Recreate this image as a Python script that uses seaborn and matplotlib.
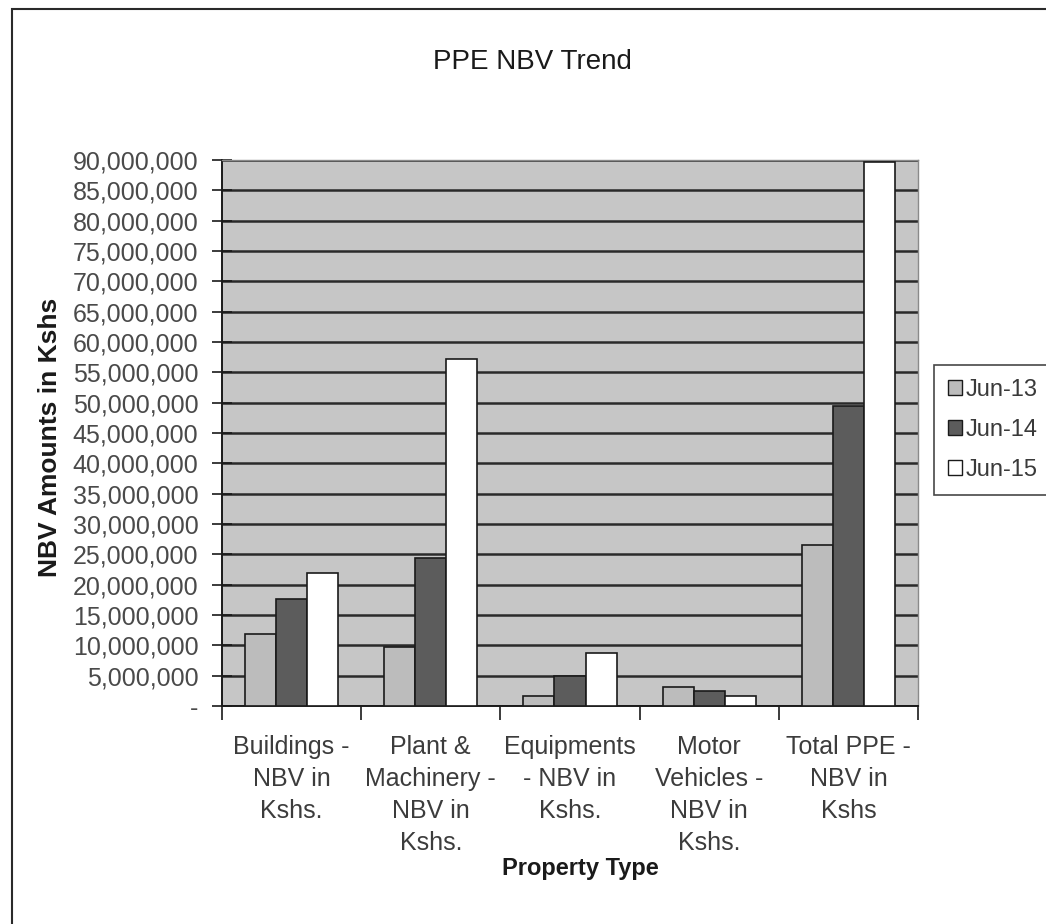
import matplotlib
matplotlib.use("Agg")
import matplotlib.pyplot as plt
import matplotlib.patches as mpatches
from matplotlib.ticker import FuncFormatter, MultipleLocator
import numpy as np
import pandas as pd
import seaborn as sns

# Net book values (Kshs) by property type for each year-end
categories = [
    "Buildings -\nNBV in\nKshs.",
    "Plant &\nMachinery -\nNBV in\nKshs.",
    "Equipments\n- NBV in\nKshs.",
    "Motor\nVehicles -\nNBV in\nKshs.",
    "Total PPE -\nNBV in\nKshs",
]
periods = ["Jun-13", "Jun-14", "Jun-15"]
jun13 = [11_900_000, 9_800_000, 1_600_000, 3_200_000, 26_500_000]
jun14 = [17_600_000, 24_400_000, 5_000_000, 2_500_000, 49_500_000]
jun15 = [22_000_000, 57_200_000, 8_700_000, 1_700_000, 89_600_000]

df = pd.DataFrame({
    "Property Type": categories * 3,
    "Period": [p for p in periods for _ in categories],
    "Value": jun13 + jun14 + jun15,
})

sns.set_theme(style="white")
plt.rcParams["font.family"] = ["Liberation Sans", "DejaVu Sans"]

fig = plt.figure(figsize=(10.46, 9.24), dpi=100)
ax = fig.add_axes([222 / 1046, 1 - 706 / 924, (918 - 222) / 1046, (706 - 160) / 924])
ax.set_facecolor("#c6c6c6")

palette = {"Jun-13": "#bcbcbc", "Jun-14": "#5c5c5c", "Jun-15": "#ffffff"}
sns.barplot(
    data=df, x="Property Type", y="Value", hue="Period",
    palette=palette, width=0.67, edgecolor="#1a1a1a", linewidth=1.2,
    saturation=1, ax=ax, legend=True, zorder=3,
)

ax.set_ylim(0, 90_000_000)
ax.set_xlim(-0.5, len(categories) - 0.5)
ax.yaxis.set_major_locator(MultipleLocator(5_000_000))
ax.yaxis.set_major_formatter(
    FuncFormatter(lambda v, _: "-" if v == 0 else f"{int(v):,}")
)
ax.grid(axis="y", color="#2a2a2a", linewidth=1.8, zorder=0)
ax.set_axisbelow(True)

for side in ["top", "right"]:
    ax.spines[side].set_color("#8a8a8a")
    ax.spines[side].set_linewidth(1.0)
for side in ["left", "bottom"]:
    ax.spines[side].set_color("#1a1a1a")
    ax.spines[side].set_linewidth(1.4)

# category boundary ticks below the x axis
ax.set_xticks(np.arange(-0.5, len(categories), 1.0), minor=True)
ax.tick_params(axis="x", which="minor", length=10, width=1.2, color="#1a1a1a",
               direction="out", bottom=True)
ax.tick_params(axis="x", which="major", length=0, pad=21,
               labelsize=18, labelcolor="#3c3c3c")
ax.tick_params(axis="y", which="major", length=14, width=1.2, color="#1a1a1a",
               direction="inout", left=True, pad=10,
               labelsize=18, labelcolor="#4a4a4a")
for lbl in ax.get_xticklabels():
    lbl.set_linespacing(1.42)

ax.set_xlabel("Property Type", fontsize=17, fontweight="bold", color="#1a1a1a")
ax.xaxis.set_label_coords((580 - 222) / 696, -(868 - 706) / 546)
ax.xaxis.label.set_va("center")
ax.set_ylabel("NBV Amounts in Kshs", fontsize=19, fontweight="bold",
              color="#1a1a1a")
ax.yaxis.set_label_coords(-(222 - 50) / 696, (706 - 437) / 546)
ax.yaxis.label.set_va("center")

fig.text(0.509, 1 - 62 / 924, "PPE NBV Trend", ha="center", va="center",
         fontsize=20, color="#1a1a1a")

leg = ax.legend(
    loc="center", bbox_to_anchor=(993 / 1046, 1 - 430 / 924),
    bbox_transform=fig.transFigure, frameon=True, fancybox=False,
    fontsize=17, handlelength=0.6, handleheight=0.6, handletextpad=0.15,
    labelspacing=0.75, borderpad=0.6, borderaxespad=0, labelcolor="#3a3a3a",
)
leg.get_frame().set_edgecolor("#1a1a1a")
leg.get_frame().set_linewidth(1.2)
for h in leg.legend_handles:
    h.set_edgecolor("#1a1a1a")
    h.set_linewidth(1.0)

# outer chart border
fig.patches.append(mpatches.Rectangle(
    (12 / 1046, -0.02), 1.1, 1.02 - 9 / 924,
    transform=fig.transFigure, fill=False, edgecolor="#2a2a2a", linewidth=1.5,
))

fig.savefig("out.png", dpi=100)
